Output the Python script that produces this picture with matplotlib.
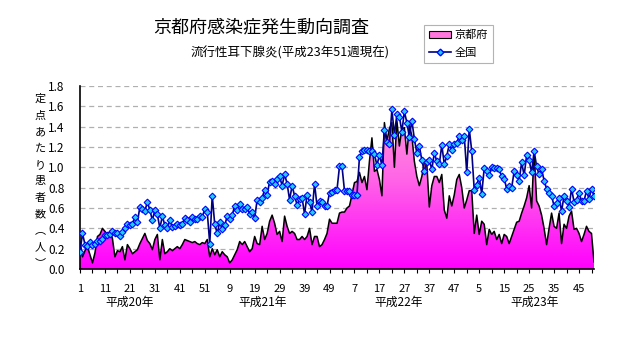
import numpy as np
import matplotlib
matplotlib.use("Agg")
import matplotlib.pyplot as plt
from matplotlib.colors import LinearSegmentedColormap
from matplotlib.patches import Patch
from matplotlib.lines import Line2D
import matplotlib.transforms as mtransforms

plt.rcParams['font.family'] = ['Noto Sans CJK JP', 'DejaVu Sans']

title = "京都府感染症発生動向調査"
subtitle = "流行性耳下腺炎(平成23年51週現在)"
ylabel_chars = ["定", "点", "あ", "た", "り", "患", "者", "数", "︵", "人", "︶"]
series_names = ["京都府", "全国"]
year_labels = ["平成20年", "平成21年", "平成22年", "平成23年"]
year_label_pos = [20, 73, 127.5, 182]

tick_labels = ["1", "11", "21", "31", "41", "51", "9", "19", "29", "39", "49",
               "7", "17", "27", "37", "47", "5", "15", "25", "35", "45"]

kyoto = [
    0.27, 0.12, 0.18, 0.22, 0.14, 0.06, 0.16, 0.32, 0.34, 0.40,
    0.37, 0.34, 0.37, 0.30, 0.12, 0.18, 0.17, 0.22, 0.09, 0.24,
    0.20, 0.15, 0.17, 0.19, 0.25, 0.30, 0.35, 0.28, 0.25, 0.19,
    0.29, 0.34, 0.09, 0.29, 0.15, 0.17, 0.20, 0.18, 0.20, 0.22,
    0.20, 0.24, 0.29, 0.28, 0.27, 0.26, 0.27, 0.25, 0.24, 0.26,
    0.25, 0.29, 0.12, 0.20, 0.14, 0.19, 0.12, 0.17, 0.14, 0.12,
    0.06, 0.09, 0.14, 0.19, 0.27, 0.24, 0.27, 0.22, 0.17, 0.20,
    0.32, 0.25, 0.24, 0.42, 0.29, 0.35, 0.47, 0.53, 0.45, 0.34,
    0.37, 0.27, 0.52, 0.42, 0.35, 0.37, 0.35, 0.29, 0.29, 0.32,
    0.29, 0.32, 0.40, 0.24, 0.32, 0.32, 0.22, 0.24, 0.29, 0.35,
    0.49, 0.45, 0.45, 0.45, 0.55, 0.56, 0.56, 0.60, 0.62, 0.73,
    0.85, 0.86, 0.95, 0.85, 0.91, 0.78, 1.06, 1.29, 0.96, 0.98,
    0.88, 0.72, 1.44, 1.26, 1.38, 1.44, 1.00, 1.46, 1.21, 1.38,
    1.39, 1.13, 1.41, 1.31, 1.06, 0.91, 0.82, 0.91, 1.05, 1.03,
    0.61, 0.82, 0.91, 0.91, 0.85, 0.93, 0.58, 0.50, 0.72, 0.62,
    0.73, 0.88, 0.93, 0.80, 0.60, 0.68, 0.77, 0.77, 0.35, 0.53,
    0.34, 0.47, 0.44, 0.24, 0.39, 0.34, 0.37, 0.29, 0.34, 0.25,
    0.34, 0.32, 0.25, 0.32, 0.39, 0.46, 0.47, 0.55, 0.62, 0.70,
    0.82, 0.60, 1.16, 0.67, 0.62, 0.53, 0.40, 0.24, 0.40, 0.55,
    0.42, 0.40, 0.55, 0.25, 0.44, 0.40, 0.52, 0.57, 0.39, 0.40,
    0.35, 0.27, 0.34, 0.42, 0.37, 0.35, 0.07,
]

national = [
    0.17, 0.35, 0.24, 0.23, 0.27, 0.24, 0.25, 0.28, 0.28, 0.30,
    0.33, 0.33, 0.34, 0.37, 0.35, 0.35, 0.32, 0.36, 0.40, 0.44,
    0.43, 0.44, 0.51, 0.46, 0.61, 0.59, 0.57, 0.66, 0.58, 0.48,
    0.58, 0.54, 0.40, 0.52, 0.43, 0.40, 0.48, 0.41, 0.42, 0.44,
    0.43, 0.44, 0.50, 0.48, 0.46, 0.51, 0.49, 0.49, 0.52, 0.51,
    0.59, 0.56, 0.25, 0.72, 0.44, 0.35, 0.46, 0.39, 0.43, 0.52,
    0.49,
    0.53, 0.62, 0.58, 0.64, 0.59, 0.59, 0.61, 0.54, 0.56, 0.50,
    0.68, 0.66, 0.70, 0.78, 0.73, 0.86, 0.87, 0.84, 0.89, 0.91,
    0.82, 0.93, 0.84, 0.68, 0.82, 0.72, 0.63, 0.69, 0.70, 0.54,
    0.73, 0.66, 0.56, 0.84, 0.62, 0.67, 0.66, 0.62, 0.62, 0.75,
    0.76, 0.78, 0.78, 1.01, 1.01, 0.77, 0.77, 0.77, 0.73, 0.73,
    0.73, 1.10, 1.16, 1.17, 1.17, 1.16, 1.16, 1.13, 1.02, 1.12,
    1.02, 1.37, 1.25, 1.23, 1.57, 1.32, 1.52, 1.50, 1.35, 1.55,
    1.44, 1.30, 1.46, 1.28, 1.14, 1.21, 1.07, 0.96, 1.05, 1.07,
    0.98, 1.14, 1.06, 1.03, 1.22, 1.03, 1.11, 1.23, 1.17, 1.23,
    1.24, 1.31, 1.27, 1.31, 0.95, 1.38, 1.16, 0.78, 0.83, 0.90,
    0.74, 0.99, 0.96, 0.92, 1.00, 0.99, 0.99, 0.98, 0.91, 0.89,
    0.79, 0.82, 0.80, 0.96, 0.92, 0.87, 1.05, 0.92, 1.12, 1.07,
    0.95, 1.16, 1.01, 0.93, 0.98, 0.87, 0.79, 0.75, 0.72, 0.62,
    0.65, 0.70, 0.57, 0.72, 0.67, 0.61, 0.79, 0.66, 0.68, 0.75,
    0.67, 0.67, 0.77, 0.69, 0.79, 0.72,
]

n = len(kyoto)
x = np.arange(n)

W, H = 632, 348
fig = plt.figure(figsize=(W / 100, H / 100), dpi=100)
ax = fig.add_axes([80 / W, 1 - 269 / H, (594 - 80) / W, (269 - 86) / H])

# gradient-filled area
poly = ax.fill_between(x, kyoto, 0, facecolor='none', edgecolor='none')
cmap = LinearSegmentedColormap.from_list('pk', ['#FF00FF', '#FF66E6', '#FFA8D8'])
grad = np.linspace(0, 1, 256).reshape(-1, 1)
im = ax.imshow(grad, cmap=cmap, extent=[0, n - 1, 0, 1.8], origin='lower',
               aspect='auto', zorder=1, interpolation='bilinear')
im.set_clip_path(poly.get_paths()[0], transform=ax.transData)
ax.plot(x, kyoto, color='black', lw=1.1, zorder=2)

ax.plot(x, national, color='#000080', lw=1.2, marker='D', markersize=3.4,
        markerfacecolor='#22CCFF', markeredgecolor='#0000FF', markeredgewidth=0.8,
        zorder=3)

ax.set_xlim(0, n - 1)
ax.set_ylim(0, 1.8)
ax.set_yticks(np.arange(0, 1.81, 0.2))
ax.set_yticklabels([f"{v:.1f}" for v in np.arange(0, 1.81, 0.2)])
ax.yaxis.grid(True, linestyle=(0, (4, 3)), color='#B0B0B0', lw=0.9)
ax.set_axisbelow(True)

ax.set_xticks(np.arange(0, n, 10))
ax.set_xticklabels(tick_labels)
ax.set_xticks(np.arange(0, n, 5), minor=True)
ax.tick_params(axis='x', which='both', direction='out', length=3, width=0.8,
               labelsize=8, pad=8)
ax.tick_params(axis='y', direction='out', length=0, width=0.8, labelsize=8.5,
               pad=11)

for s in ['top', 'right']:
    ax.spines[s].set_visible(False)
for s in ['left', 'bottom']:
    ax.spines[s].set_linewidth(1.2)

trans = mtransforms.blended_transform_factory(ax.transData, fig.transFigure)
for lab, xp in zip(year_labels, year_label_pos):
    ax.text(xp, 1 - 302 / H, lab, transform=trans, ha='center', va='center',
            fontsize=8.5)

fig.text(261 / W, 1 - 27 / H, title, ha='center', va='center', fontsize=13)
fig.text(290 / W, 1 - 53 / H, subtitle, ha='center', va='center', fontsize=9)

fig.text(40 / W, 1 - 181 / H, "\n".join(ylabel_chars), ha='center',
         va='center', fontsize=8, linespacing=1.8, multialignment='center')

handles = [
    Patch(facecolor='#FF77DD', edgecolor='black', linewidth=0.8),
    Line2D([0], [0], color='#000080', lw=1.2, marker='D', markersize=3.4,
           markerfacecolor='#22CCFF', markeredgecolor='#0000FF'),
]
leg = fig.legend(handles, series_names, loc='upper left',
                 bbox_to_anchor=(424 / W, 1 - 25 / H), fontsize=8,
                 frameon=True, fancybox=False, handlelength=2.0,
                 handletextpad=0.3, borderpad=0.45, labelspacing=0.65,
                 borderaxespad=0)
leg.get_frame().set_edgecolor('#A0A0A0')
leg.get_frame().set_linewidth(0.8)

fig.savefig("out.png", dpi=100)
